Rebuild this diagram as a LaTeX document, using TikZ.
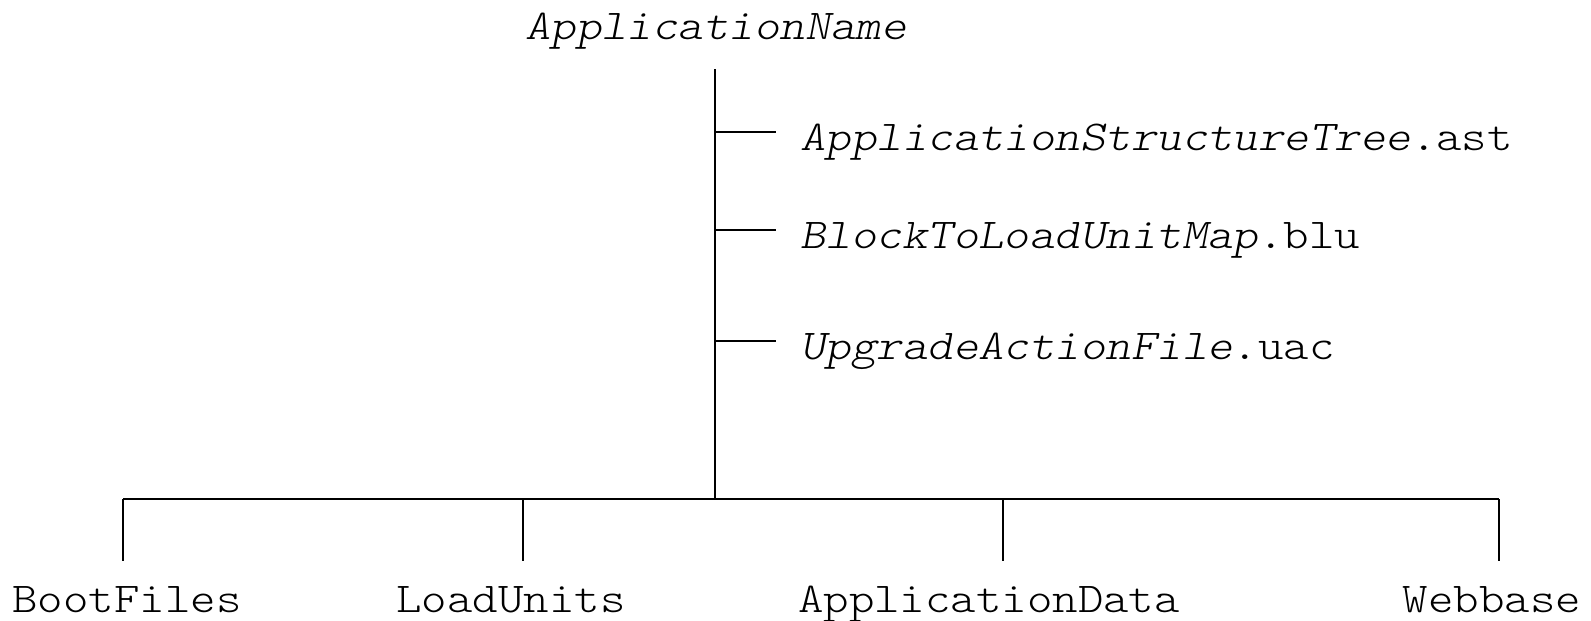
\documentclass[tikz,border=0pt]{standalone}
\usepackage{fontspec}
\newfontfamily\codefont{lmmonolt10-regular.otf}[ItalicFont=lmmonolt10-oblique.otf, FakeStretch=1.14]
\usepackage{tikz}
\usetikzlibrary{positioning}

\begin{document}
\begin{tikzpicture}[
    x=0.02cm, y=-0.02cm,
    branch/.style={draw, line width=0.7pt},
    bar/.style={draw, line width=1.1pt},
    rootname/.style={font=\codefont\fontsize{24.2}{28}\selectfont\itshape, anchor=base, inner sep=0pt},
    file/.style={
        font=\codefont\fontsize{24.2}{28}\selectfont, anchor=base west,
        text height=0.72cm, text depth=0cm, inner xsep=0.48cm, inner ysep=0pt
    },
    folder/.style={
        font=\codefont\fontsize{24.2}{28}\selectfont, anchor=base,
        text height=0.64cm, text depth=0cm, inner xsep=0pt, inner ysep=0.38cm
    }
]
\useasboundingbox (0,0) rectangle (1591,620);

\node[rootname] (root) at (716,39) {ApplicationName};

% trunk
\coordinate (top) at (715,69);
\coordinate (hub) at (715,499);
\draw[branch] (top) -- (hub);

% files hanging off the trunk
\node[file] (ast) at (776,150) {\textit{ApplicationStructureTree}.ast};
\node[file] (blu) at (776,248) {\textit{BlockToLoadUnitMap}.blu};
\node[file] (uac) at (776,359) {\textit{UpgradeActionFile}.uac};
\draw[branch] (ast.west -| top) -- (ast.west);
\draw[branch] (blu.west -| top) -- (blu.west);
\draw[branch] (uac.west -| top) -- (uac.west);

% folders below
\node[folder] (boot) at (127,612) {BootFiles};
\node[folder] (lu)   at (511,612) {LoadUnits};
\node[folder] (data) at (989,612) {ApplicationData};
\node[folder] (web)  at (1492,612) {Webbase};

\coordinate (b1) at (123,499);
\coordinate (b2) at (523,499);
\coordinate (b3) at (1003,499);
\coordinate (b4) at (1499,499);
\draw[bar] (b1) -- (b4);
\draw[branch] (b1) -- (b1 |- boot.north);
\draw[branch] (b2) -- (b2 |- lu.north);
\draw[branch] (b3) -- (b3 |- data.north);
\draw[branch] (b4) -- (b4 |- web.north);

\end{tikzpicture}
\end{document}
